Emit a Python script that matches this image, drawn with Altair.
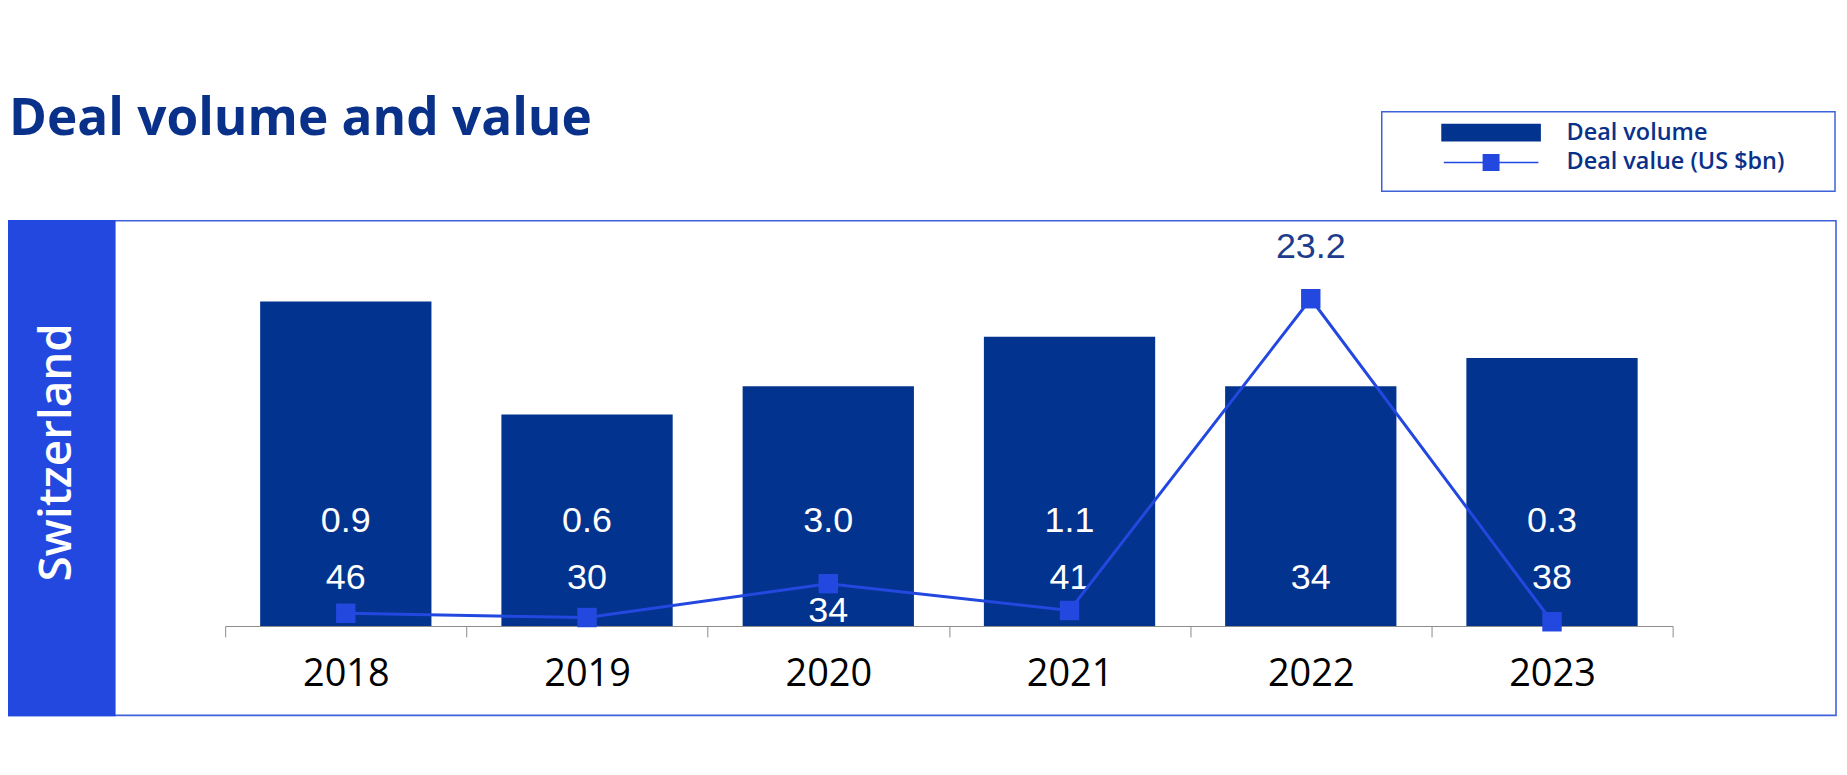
import altair as alt
import pandas as pd

# ---------------- data ----------------
years = ["2018", "2019", "2020", "2021", "2022", "2023"]
deal_volume = [46, 30, 34, 41, 34, 38]
deal_value = [0.9, 0.6, 3.0, 1.1, 23.2, 0.3]
series_names = ["Deal volume", "Deal value (US $bn)"]
chart_title = "Deal volume and value"
country = "Switzerland"

# ---------------- styling ----------------
NAVY = "#02338E"
BLUE = "#2348E0"
FRAME = "#3E62D9"
TEXT_NAVY = "#0A318A"
W, H = 1453, 354

df = pd.DataFrame({"year": years, "volume": deal_volume, "value": deal_value})
one = alt.Data(values=[{"k": 0}])

x_axis = alt.Axis(
    title=None, labelAngle=0, labelFont="Open Sans", labelFontSize=38,
    labelColor="#000000", tickBand="extent", tickSize=11, tickColor="#8C8C8C",
    tickWidth=1, domainColor="#8C8C8C", domainWidth=1, labelPadding=19, grid=False,
)
x_enc = alt.X("year:N", sort=years, scale=alt.Scale(paddingInner=0, paddingOuter=0), axis=x_axis)

vol_scale = alt.Scale(domain=[0, 50])
val_scale = alt.Scale(domain=[0, 25])

# ---------------- decorations ----------------
frame = alt.Chart(one).mark_rect(fillOpacity=0, stroke=FRAME, strokeWidth=1.6).encode(
    x=alt.value(-218), x2=alt.value(1617), y=alt.value(-52.8), y2=alt.value(443.7)
)
sidebar = alt.Chart(one).mark_rect(color=BLUE).encode(
    x=alt.value(-218), x2=alt.value(-110), y=alt.value(-53.5), y2=alt.value(444.5)
)
side_text = alt.Chart(one).mark_text(
    text=country, angle=270, align="center", baseline="alphabetic",
    font="Open Sans", fontWeight=600, fontSize=46, color="white",
).encode(x=alt.value(-155), y=alt.value(179.7))
title = alt.Chart(one).mark_text(
    text=chart_title, align="left", baseline="alphabetic",
    font="Open Sans", fontWeight="bold", fontSize=51.5, color=TEXT_NAVY,
).encode(x=alt.value(-217), y=alt.value(-138.5))
legend_box = alt.Chart(one).mark_rect(fillOpacity=0, stroke=FRAME, strokeWidth=1.5).encode(
    x=alt.value(1161), x2=alt.value(1616), y=alt.value(-162.3), y2=alt.value(-82.3)
)

# ---------------- data layers ----------------
base = alt.Chart(df)

bars = base.mark_bar(color=NAVY, width=alt.RelativeBandSize(0.71)).encode(
    x=x_enc, y=alt.Y("volume:Q", scale=vol_scale, axis=None)
)

vol_labels = base.transform_calculate(
    vy="abs(datum.value * 2 - 7) < 3.5 ? 0.5 : 5.2"
).mark_text(font="Liberation Sans", fontSize=36, color="white", baseline="alphabetic").encode(
    x=x_enc, y=alt.Y("vy:Q", scale=vol_scale, axis=None), text=alt.Text("volume:Q")
)

val_labels = base.transform_calculate(
    ly="datum.value > 10 ? datum.value * 2 + 5.8 : 13.3"
).mark_text(font="Liberation Sans", fontSize=36, baseline="alphabetic").encode(
    x=x_enc,
    y=alt.Y("ly:Q", scale=vol_scale, axis=None),
    text=alt.Text("value:Q", format=".1f"),
    color=alt.condition("datum.value > 10", alt.value("#1D3C8C"), alt.value("white")),
)

line = base.mark_line(color=BLUE, strokeWidth=3).encode(
    x=x_enc, y=alt.Y("value:Q", scale=val_scale, axis=None)
)
points = base.mark_point(shape="square", size=380, filled=True, color=BLUE, opacity=1).encode(
    x=x_enc, y=alt.Y("value:Q", scale=val_scale, axis=None)
)

# ---------------- legend (library legend, no data marks) ----------------
# symbol unit = sqrt(400)/2 = 10 px
RECT_PATH = "M-5,-0.9H5V0.9H-5Z"
LINE_PATH = "M-4.75,-0.065H4.75V0.065H-4.75Z M-0.85,-0.85H0.85V0.85H-0.85Z"
leg = alt.Legend(
    orient="none", legendX=1219, legendY=-153, title=None, padding=0,
    labelFont="Open Sans", labelFontSize=23.5, labelFontWeight=600, labelColor=TEXT_NAVY,
    labelLimit=400, labelOffset=64, symbolOffset=40, symbolSize=400, symbolStrokeWidth=0,
    rowPadding=5, direction="vertical",
)
legend_layer = alt.Chart(pd.DataFrame({"series": series_names})).transform_filter(
    "false"
).mark_point(filled=True, opacity=1).encode(
    color=alt.Color("series:N", scale=alt.Scale(domain=series_names, range=[NAVY, BLUE]), legend=leg),
    shape=alt.Shape("series:N", scale=alt.Scale(domain=series_names, range=[RECT_PATH, LINE_PATH]), legend=leg),
)

chart = alt.layer(
    frame, sidebar, side_text, title, legend_box,
    bars, vol_labels, val_labels, line, points, legend_layer,
).resolve_scale(y="independent").properties(
    width=W, height=H,
    padding={"left": 218, "top": 265, "right": 167, "bottom": 92},
    autosize=alt.AutoSizeParams(type="none"),
).configure_view(stroke=None)

chart.save("out.html", embed_options={"renderer": "svg", "actions": False})
